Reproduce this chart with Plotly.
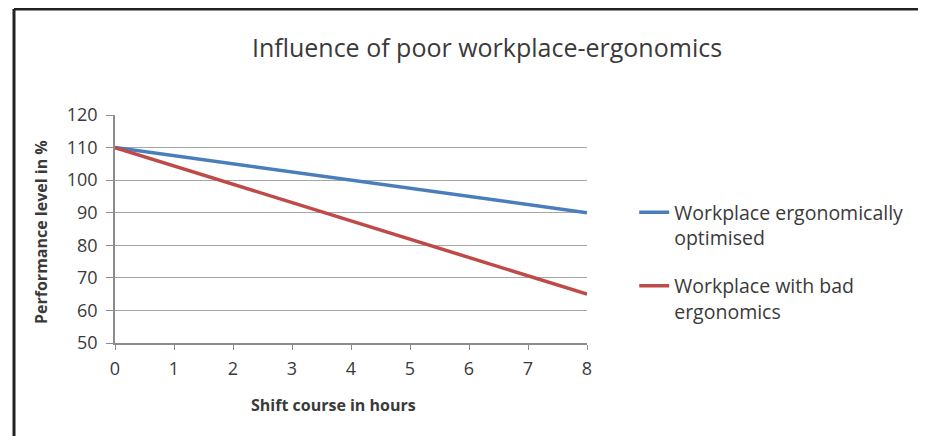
import plotly.graph_objects as go

hours = [0, 8]
optimised = [110, 90]
bad = [110, 65]
series_names = ["Workplace ergonomically<br>optimised", "Workplace with bad<br>ergonomics"]
x_ticks = [0, 1, 2, 3, 4, 5, 6, 7, 8]
y_ticks = [50, 60, 70, 80, 90, 100, 110, 120]

FONT = "Open Sans"
TXT = "#3A3A3A"

# page offset of 8px (body margin) taken into account
W, H = 918, 428
PL, PR, PT, PB = 115, 587, 115, 343  # plot area in page pixels


def px(x):
    return (x - PL) / (PR - PL)


def py(y):
    return (PB - y) / (PB - PT)


fig = go.Figure()
fig.add_trace(go.Scatter(x=hours, y=optimised, mode="lines", name=series_names[0],
                         line=dict(color="#4A7EBB", width=3.5), legendgroup="a"))
fig.add_trace(go.Scatter(x=hours, y=bad, mode="lines", name=series_names[1],
                         line=dict(color="#BE4B48", width=3.5), legendgroup="b"))

fig.update_layout(
    width=W, height=H,
    margin=dict(l=PL - 8, r=W - (PR - 8), t=PT - 8, b=H - (PB - 8)),
    paper_bgcolor="white", plot_bgcolor="white",
    font=dict(family=FONT, color=TXT),
    title=dict(text="Influence of poor workplace-ergonomics", x=(487 - 8) / W, xanchor="center",
               y=1 - (48 - 8) / H, yanchor="middle", font=dict(size=25, color=TXT, family=FONT)),
    showlegend=True,
    legend=dict(x=1.10, xanchor="left", y=0.658, yanchor="top", valign="top",
                tracegroupgap=20, font=dict(size=19.5, color=TXT, family=FONT),
                bgcolor="rgba(0,0,0,0)"),
    xaxis=dict(range=[0, 8], tickvals=x_ticks, showgrid=False, showline=True,
               linecolor="#8C8C8C", linewidth=1.5, ticks="outside", ticklen=5,
               tickcolor="#8C8C8C", tickfont=dict(size=18, color=TXT), zeroline=False,
               ticklabelstandoff=4),
    yaxis=dict(range=[50, 120], tickvals=y_ticks, showgrid=True, gridcolor="#A6A6A6",
               gridwidth=1, showline=True, linecolor="#8C8C8C", linewidth=1.5,
               ticks="outside", ticklen=7, tickcolor="#8C8C8C",
               tickfont=dict(size=18, color=TXT), zeroline=False, ticklabelstandoff=5),
    annotations=[
        dict(text="<b>Shift course in hours</b>", xref="paper", yref="paper",
             x=px(333), y=py(405), xanchor="center", yanchor="middle",
             showarrow=False, font=dict(size=16, color=TXT, family=FONT)),
        dict(text="<b>Performance level in %</b>", xref="paper", yref="paper",
             x=px(41), y=py(232), xanchor="center", yanchor="middle",
             textangle=-90, showarrow=False, font=dict(size=16, color=TXT, family=FONT)),
    ],
    shapes=[
        dict(type="line", xref="paper", yref="paper",
             x0=px(14), x1=px(14), y0=py(9), y1=py(440),
             line=dict(color="#222222", width=3)),
        dict(type="line", xref="paper", yref="paper",
             x0=px(14), x1=px(930), y0=py(9), y1=py(9),
             line=dict(color="#222222", width=3)),
    ],
)

fig.write_html("out.html")
